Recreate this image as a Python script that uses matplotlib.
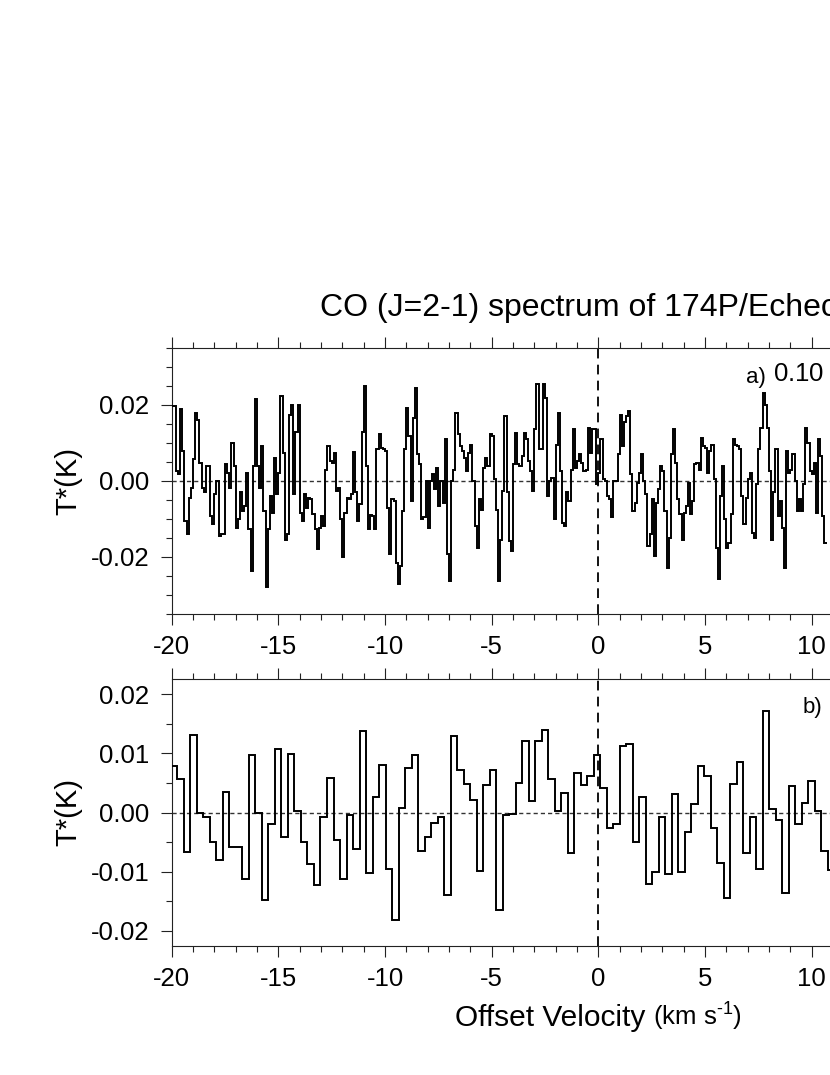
import numpy as np
import matplotlib
matplotlib.use("Agg")
import matplotlib.pyplot as plt
from matplotlib.ticker import MultipleLocator, FormatStrFormatter

plt.rcParams['font.family'] = ['Liberation Sans', 'DejaVu Sans']
plt.rcParams['axes.unicode_minus'] = False
plt.rcParams['mathtext.fontset'] = 'custom'
plt.rcParams['mathtext.rm'] = 'Liberation Sans'
plt.rcParams['mathtext.default'] = 'regular'
plt.rcParams['lines.scale_dashes'] = False

# ---------------- data ----------------
title = "CO (J=2-1) spectrum of 174P/Echeclus"
xlabel_main = "Offset Velocity"
xlabel_unit = r"(km s$^{\text{-}1}$)"
ylabel = "T*(K)"
panel_a_tag, panel_a_res = "a)", r"0.10 km s$^{\text{-}1}$"
panel_b_tag = "b)"

x_ticks = [-20, -15, -10, -5, 0, 5, 10]

# panel a: 0.10 km/s channels starting at -20 km/s
a_v0 = -20.0
a_dv = 0.10
a_T = [
    0.0197, 0.0197, 0.0026, 0.0018, 0.0190, 0.0080, -0.0105, -0.0140, -0.0044, -0.0018,
    0.0057, 0.0180, 0.0160, 0.0048, -0.0018, -0.0030, 0.0040, 0.0040, -0.0092, -0.0114,
    -0.0035, 0.0000, -0.0145, -0.0140, -0.0140, 0.0044, 0.0022, -0.0018, 0.0100, 0.0040,
    -0.0123, -0.0100, -0.0030, -0.0079, -0.0066, 0.0022, -0.0127, -0.0237, 0.0040, 0.0217,
    0.0040, -0.0018, 0.0092, -0.0079, -0.0280, -0.0127, -0.0039, -0.0083, 0.0061, -0.0035,
    0.0022, 0.0224, 0.0075, -0.0154, -0.0140, 0.0175, 0.0200, -0.0035, 0.0130, 0.0200,
    -0.0083, -0.0105, -0.0035, -0.0070, -0.0044, -0.0048, -0.0088, -0.0127, -0.0180, -0.0123,
    -0.0092, -0.0118, 0.0030, 0.0092, 0.0053, 0.0048, 0.0075, -0.0026, -0.0018,
    # -12.1 .. -4.2
    -0.0100, -0.0200, -0.0083, -0.0044, -0.0048, -0.0035, 0.0076, -0.0030, -0.0105, -0.0060,
    0.0130, 0.0250, 0.0040, -0.0127, -0.0090, -0.0092, -0.0127, 0.0083, 0.0123, 0.0088,
    0.0083, 0.0079, -0.0070, -0.0193, -0.0048, -0.0053, -0.0215, -0.0272, -0.0224, -0.0079,
    0.0083, 0.0193, 0.0118, -0.0053, 0.0167, 0.0246, 0.0070, 0.0044, -0.0100, -0.0096,
    0.0000, -0.0123, 0.0000, 0.0018, -0.0022, 0.0035, -0.0066, 0.0000, -0.0057, 0.0111,
    -0.0193, -0.0263, 0.0000, 0.0030, 0.0178, 0.0123, 0.0092, 0.0079, 0.0061, 0.0026,
    0.0075, 0.0096, 0.0000, -0.0118, -0.0175, -0.0048, -0.0075, 0.0035, 0.0061, 0.0040,
    0.0123, 0.0118, 0.0004, -0.0075, -0.0263, -0.0154, -0.0026, 0.0171,
    # -4.3 .. 3.7
    -0.0030, -0.0158, -0.0184, 0.0044, 0.0127, 0.0044, 0.0040, 0.0066, 0.0127, 0.0110,
    0.0053, 0.0026, -0.0026, 0.0136, 0.0254, 0.0083, 0.0083, 0.0254, 0.0219, -0.0040,
    0.0000, 0.0009, -0.0100, 0.0096, 0.0180, 0.0026, -0.0110, -0.0118, -0.0030, -0.0053,
    0.0030, 0.0136, 0.0035, 0.0053, 0.0070, 0.0048, 0.0026, 0.0030, 0.0140, 0.0075,
    0.0136, 0.0136, -0.0009, 0.0022, 0.0110, 0.0004, 0.0000, -0.0040, -0.0048, -0.0096,
    0.0000, 0.0000, 0.0070, 0.0175, 0.0092, 0.0154, 0.0171, 0.0184, 0.0018, -0.0079,
    -0.0057, -0.0004, 0.0022, 0.0070, 0.0000, -0.0035, -0.0171, -0.0140, -0.0048, -0.0197,
    -0.0057, -0.0022, 0.0040, 0.0026, -0.0079, -0.0228, -0.0150, 0.0070, 0.0136,
    # 3.7 .. 10.8
    0.0048, -0.0048, -0.0088, -0.0154, -0.0083, -0.0066, -0.0004, -0.0088, -0.0053, 0.0044,
    0.0048, 0.0030, 0.0114, 0.0092, 0.0088, 0.0022, 0.0079, 0.0096, 0.0004, -0.0175,
    -0.0259, -0.0040, 0.0040, -0.0100, -0.0175, -0.0162, -0.0088, 0.0110, 0.0096, 0.0092,
    0.0083, -0.0040, -0.0114, -0.0044, 0.0004, 0.0022, -0.0136, -0.0150, -0.0009, 0.0083,
    0.0140, 0.0232, 0.0200, 0.0140, 0.0026, -0.0154, -0.0030, 0.0083, -0.0092, -0.0053,
    -0.0123, -0.0228, 0.0079, 0.0022, 0.0030, 0.0070, 0.0000, -0.0079, -0.0048, -0.0079,
    -0.0009, 0.0140, 0.0100, 0.0026, 0.0018, 0.0048, -0.0083, 0.0110, 0.0066, -0.0092,
    -0.0162,
]

# panel b: ~0.305 km/s channels
b_v0 = -20.04
b_dv = 0.305
b_T = [
    0.0079, 0.0056, -0.0067, 0.0131, -0.0001, -0.0007, -0.0049, -0.0081, 0.0035, -0.0059,
    -0.0059, -0.0112, 0.0097, 0.0000, -0.0148, -0.0019, 0.0107, -0.0042, 0.0099, 0.0003,
    -0.0049, -0.0087, -0.0122, -0.0008, 0.0059, -0.0046, -0.0112, -0.0005, -0.0061, 0.0138,
    -0.0102, 0.0027, 0.0080, -0.0096, -0.0181, 0.0007, 0.0076, 0.0097, -0.0065, -0.0042,
    -0.0017, -0.0007, -0.0139, 0.0130, 0.0071, 0.0048, 0.0021, -0.0098, 0.0047, 0.0072,
    -0.0165, -0.0004, -0.0003, 0.0049, 0.0120, 0.0020, 0.0121, 0.0140, 0.0056, 0.0002,
    0.0033, -0.0069, 0.0066, 0.0047, 0.0061, 0.0097, 0.0042, -0.0026, -0.0019, 0.0112,
    0.0116, -0.0049, 0.0026, -0.0120, -0.0101, -0.0007, -0.0104, 0.0031, -0.0101, -0.0033,
    0.0014, 0.0078, 0.0062, -0.0026, -0.0085, -0.0145, 0.0048, 0.0086, -0.0069, -0.0007,
    -0.0095, 0.0172, 0.0006, -0.0012, -0.0136, 0.0044, -0.0020, 0.0016, 0.0053, 0.0003,
    -0.0065, -0.0097,
]

a_ylim = (-0.035, 0.035)
b_ylim = (-0.0225, 0.0225)
a_yticks = [-0.02, 0.00, 0.02]
b_yticks = [-0.02, -0.01, 0.00, 0.01, 0.02]

# ---------------- figure ----------------
W, H = 830, 1075
fig = plt.figure(figsize=(W / 100, H / 100), dpi=100)

def fx(px):
    return px / W

def fy(py):
    return 1 - py / H

left = fx(171.7)
width = fx(1025.0) - left
ax_a = fig.add_axes([left, fy(614.0), width, fy(348.0) - fy(614.0)])
ax_b = fig.add_axes([left, fy(945.7), width, fy(679.3) - fy(945.7)])

def style(ax, ylim, yticks, minor_y):
    ax.set_xlim(-20, 20)
    ax.set_ylim(*ylim)
    ax.set_xticks(x_ticks)
    ax.xaxis.set_minor_locator(MultipleLocator(1))
    ax.set_yticks(yticks)
    ax.yaxis.set_minor_locator(MultipleLocator(minor_y))
    ax.yaxis.set_major_formatter(FormatStrFormatter('%.2f'))
    ax.tick_params(which='both', direction='out', top=True, right=True,
                   width=0.8, color='#222222')
    ax.tick_params(which='major', length=8, labelsize=18.5)
    ax.tick_params(which='minor', length=4.3)
    ax.tick_params(axis='x', pad=7)
    ax.tick_params(axis='y', pad=8)
    for s in ax.spines.values():
        s.set_linewidth(0.8)
        s.set_color('#222222')
    ax.axhline(0, color='#333333', lw=1.0, ls=(0, (3.0, 2.2)), zorder=1)
    ax.axvline(0, color='black', lw=1.3, ls=(0, (7.0, 4.5)), zorder=1)

for ax, v0, dv, T, ylim, yt in [(ax_a, a_v0, a_dv, a_T, a_ylim, a_yticks),
                               (ax_b, b_v0, b_dv, b_T, b_ylim, b_yticks)]:
    edges = v0 + dv * np.arange(len(T) + 1)
    ax.stairs(T, edges, baseline=None, color='black', lw=1.4, zorder=3)
    style(ax, ylim, yt, 0.005)

# texts
fig.text(fx(598.5), fy(316), title, ha='center', va='baseline', fontsize=23)
fig.text(fx(455), fy(1026), xlabel_main, ha='left', va='baseline', fontsize=21.5)
fig.text(fx(653), fy(1026), xlabel_unit, ha='left', va='baseline', fontsize=18.5)
fig.text(fx(68), fy(481), ylabel, rotation=90, ha='center', va='center', fontsize=21)
fig.text(fx(68), fy(812.5), ylabel, rotation=90, ha='center', va='center', fontsize=21)
fig.text(fx(746), fy(383), panel_a_tag, ha='left', va='baseline', fontsize=16)
fig.text(fx(773), fy(383), panel_a_res, ha='left', va='baseline', fontsize=18.5)
fig.text(fx(803), fy(713), panel_b_tag, ha='left', va='baseline', fontsize=16)

fig.savefig("out.png", dpi=100)
